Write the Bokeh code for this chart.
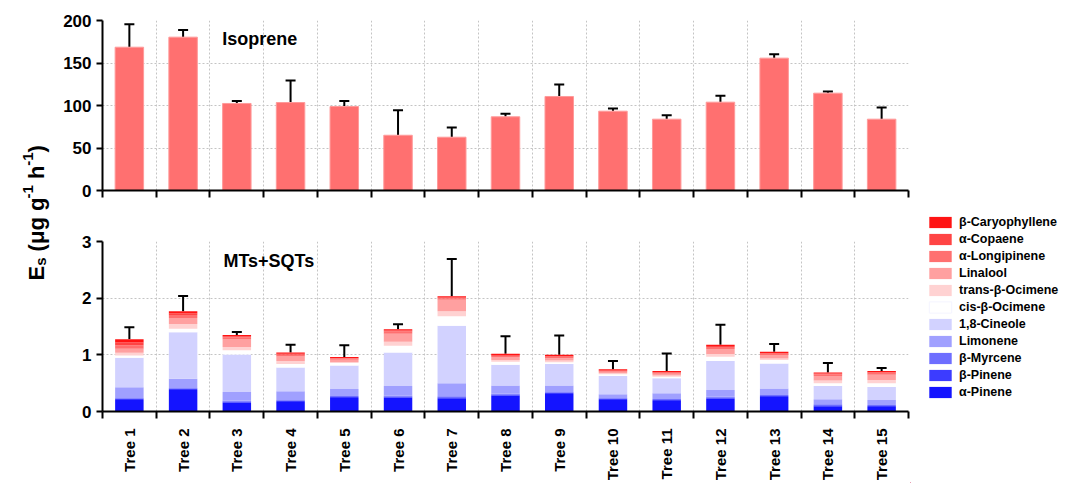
import math
from bokeh.plotting import figure
from bokeh.models import (Range1d, FixedTicker, Whisker, TeeHead, ColumnDataSource,
                          Legend, LegendItem, Label)
from bokeh.layouts import row, column
from bokeh.embed import file_html
from bokeh.resources import INLINE
from bokeh.core.properties import value

# ---------------- data ----------------
trees = ["Tree 1", "Tree 2", "Tree 3", "Tree 4", "Tree 5", "Tree 6", "Tree 7", "Tree 8",
         "Tree 9", "Tree 10", "Tree 11", "Tree 12", "Tree 13", "Tree 14", "Tree 15"]
tree_pos = [1, 2, 3, 4, 5, 6, 7, 8, 9, 10, 11, 12, 13, 14, 15]
boundaries = [0.5, 1.5, 2.5, 3.5, 4.5, 5.5, 6.5, 7.5, 8.5, 9.5, 10.5, 11.5, 12.5, 13.5, 14.5, 15.5]

isoprene = [168.6, 180.4, 102.4, 103.5, 98.8, 65.0, 62.7, 86.7, 110.6, 93.3, 83.9, 103.9, 155.7, 114.5, 83.9]
isoprene_err = [27.0, 8.5, 3.0, 26.0, 6.5, 29.5, 11.5, 3.5, 14.0, 3.2, 4.7, 7.5, 4.7, 2.0, 13.7]

a_pinene = [0.203, 0.378, 0.156, 0.168, 0.238, 0.244, 0.232, 0.280, 0.310, 0.203, 0.185, 0.226, 0.255, 0.091, 0.079]
b_pinene = [0.020, 0.022, 0.020, 0.020, 0.020, 0.020, 0.020, 0.020, 0.020, 0.020, 0.020, 0.020, 0.020, 0.020, 0.020]
b_myrcene = [0.015, 0.015, 0.015, 0.015, 0.015, 0.015, 0.015, 0.015, 0.015, 0.015, 0.015, 0.015, 0.015, 0.015, 0.015]
limonene = [0.189, 0.161, 0.154, 0.154, 0.125, 0.171, 0.231, 0.142, 0.112, 0.067, 0.102, 0.119, 0.114, 0.090, 0.090]
cineole = [0.520, 0.824, 0.661, 0.421, 0.415, 0.590, 1.017, 0.368, 0.380, 0.322, 0.263, 0.510, 0.444, 0.234, 0.229]
cis_ocimene = [0.041, 0.062, 0.074, 0.062, 0.041, 0.120, 0.165, 0.055, 0.033, 0.029, 0.029, 0.075, 0.059, 0.047, 0.064]
trans_ocimene = [0.050, 0.080, 0.060, 0.050, 0.020, 0.070, 0.090, 0.030, 0.030, 0.020, 0.020, 0.050, 0.030, 0.050, 0.060]
linalool = [0.070, 0.110, 0.130, 0.080, 0.040, 0.140, 0.200, 0.050, 0.040, 0.025, 0.030, 0.090, 0.060, 0.080, 0.090]
a_longipinene = [0.060, 0.050, 0.040, 0.030, 0.020, 0.040, 0.030, 0.020, 0.025, 0.015, 0.020, 0.035, 0.020, 0.030, 0.035]
a_copaene = [0.050, 0.030, 0.020, 0.020, 0.010, 0.020, 0.015, 0.010, 0.010, 0.010, 0.010, 0.015, 0.010, 0.013, 0.012]
b_caryophyllene = [0.057, 0.037, 0.021, 0.020, 0.016, 0.020, 0.020, 0.027, 0.025, 0.018, 0.020, 0.025, 0.026, 0.020, 0.020]
mt_err = [0.21, 0.27, 0.05, 0.14, 0.21, 0.09, 0.655, 0.31, 0.34, 0.146, 0.31, 0.35, 0.14, 0.164, 0.053]

compounds = ["α-Pinene", "β-Pinene", "β-Myrcene", "Limonene", "1,8-Cineole", "cis-β-Ocimene",
             "trans-β-Ocimene", "Linalool", "α-Longipinene", "α-Copaene", "β-Caryophyllene"]
compound_values = [a_pinene, b_pinene, b_myrcene, limonene, cineole, cis_ocimene,
                   trans_ocimene, linalool, a_longipinene, a_copaene, b_caryophyllene]
compound_colors = ["#1414ff", "#3c3cff", "#6e6eff", "#a0a0ff", "#d2d2ff", "#ffffff",
                   "#ffd2d2", "#ffa0a0", "#ff7070", "#ff4444", "#ff1414"]
isoprene_color = "#ff7070"

y_title = ["E", "s", "(μg g", "-1", "h", "-1", ")"]

FONT = "Liberation Sans"
GRID = "#c4c4c4"

# ---------------- helpers ----------------
def style_axes(p, yticks, labelled):
    p.outline_line_color = None
    for ax in (p.xaxis[0], p.yaxis[0]):
        ax.axis_line_width = 2
        ax.axis_line_color = "black"
        ax.major_label_text_font = FONT
        ax.major_label_text_font_style = "bold"
        ax.major_label_text_color = "black"
    ya = p.yaxis[0]
    ya.ticker = FixedTicker(ticks=yticks)
    ya.major_tick_out = 6
    ya.major_tick_in = 0
    ya.major_tick_line_width = 2
    ya.minor_tick_line_color = None
    ya.major_label_text_font_size = "17px"
    ya.major_label_standoff = 5
    xa = p.xaxis[0]
    xa.ticker = FixedTicker(ticks=tree_pos if labelled else [], minor_ticks=boundaries)
    xa.major_tick_line_color = None
    xa.major_tick_out = 0
    xa.major_tick_in = 0
    xa.minor_tick_out = 7
    xa.minor_tick_in = 0
    xa.minor_tick_line_width = 2
    xa.minor_tick_line_color = "black"
    p.xgrid.ticker = FixedTicker(ticks=boundaries[1:-1])
    p.xgrid.grid_line_color = GRID
    p.xgrid.grid_line_dash = "2 2"
    p.ygrid.grid_line_color = GRID
    p.ygrid.grid_line_dash = "2 2"


# ---------------- top panel: isoprene ----------------
top = figure(width=852, height=203, x_range=Range1d(0.5, 15.5), y_range=Range1d(0, 200),
             output_backend="svg", toolbar_location=None,
             min_border_left=44, min_border_right=2, min_border_top=20, min_border_bottom=13)
style_axes(top, [0, 50, 100, 150, 200], labelled=False)
top.ygrid.ticker = FixedTicker(ticks=[50, 100, 150])

iso_src = ColumnDataSource(dict(x=tree_pos, top=isoprene,
                                upper=[v + e for v, e in zip(isoprene, isoprene_err)]))
top.vbar(x="x", top="top", width=0.53, source=iso_src, fill_color=isoprene_color,
         line_color="#ff9a9a", line_width=1)
top.add_layout(Whisker(base="x", lower="top", upper="upper", source=iso_src,
                       line_width=2, line_color="black", lower_head=None,
                       upper_head=TeeHead(size=10, line_width=2, line_color="black")))
top.add_layout(Label(x=2.73, y=166.7, text="Isoprene", text_font=FONT,
                     text_font_style="bold", text_font_size="18px", text_color="black"))

# ---------------- bottom panel: MTs + SQTs ----------------
bot = figure(width=852, height=280, x_range=Range1d(0.5, 15.5), y_range=Range1d(0, 3),
             output_backend="svg", toolbar_location=None,
             min_border_left=44, min_border_right=2, min_border_top=38, min_border_bottom=71)
style_axes(bot, [0, 1, 2, 3], labelled=True)
bot.ygrid.ticker = FixedTicker(ticks=[1, 2])
bot.xaxis[0].major_label_overrides = {i: t for i, t in zip(tree_pos, trees)}
bot.xaxis[0].major_label_orientation = math.pi / 2
bot.xaxis[0].major_label_text_font_size = "15px"
bot.xaxis[0].major_label_standoff = 10

data = dict(x=tree_pos)
for name, vals in zip(compounds, compound_values):
    data[name] = vals
totals = [sum(v[i] for v in compound_values) for i in range(len(tree_pos))]
data["total"] = totals
data["upper"] = [t + e for t, e in zip(totals, mt_err)]
mt_src = ColumnDataSource(data)

bot.vbar_stack(compounds, x="x", width=0.53, source=mt_src,
               fill_color=compound_colors, line_color=None)
bot.add_layout(Whisker(base="x", lower="total", upper="upper", source=mt_src,
                       line_width=2, line_color="black", lower_head=None,
                       upper_head=TeeHead(size=10, line_width=2, line_color="black")))
bot.add_layout(Label(x=2.75, y=2.48, text="MTs+SQTs", text_font=FONT,
                     text_font_style="bold", text_font_size="18px", text_color="black"))

# ---------------- legend (own canvas to the right of the panels) ----------------
leg = figure(width=153, height=483, x_range=Range1d(0, 153), y_range=Range1d(0, 483),
             output_backend="svg", toolbar_location=None, min_border=0,
             x_axis_location=None, y_axis_location=None, outline_line_color=None)
leg.grid.visible = False
swatches = []
for name, col in zip(compounds, compound_colors):
    # proxy glyph placed outside the visible range: only its legend swatch shows
    r = leg.vbar(x=[-1000], top=[1], width=0.5, fill_color=col, line_color="#f4f4ff"
                 if col == "#ffffff" else None)
    swatches.append(LegendItem(label=name, renderers=[r]))
legend = Legend(items=swatches[::-1], location=(16, 84), orientation="vertical",
                glyph_width=28, glyph_height=14, label_height=14, spacing=3,
                label_standoff=5, padding=2, margin=0,
                label_text_font=FONT, label_text_font_style="bold",
                label_text_font_size="12.5px", label_text_color="black",
                background_fill_alpha=0, border_line_color=None)
leg.add_layout(legend)

# ---------------- shared y title ----------------
lab = figure(width=58, height=483, x_range=Range1d(0, 58), y_range=Range1d(0, 483),
             output_backend="svg", toolbar_location=None, min_border=0,
             x_axis_location=None, y_axis_location=None, outline_line_color=None)
lab.grid.visible = False
pieces_y = [203, 217.7, 232.1, 285.0, 304.4, 317.8, 331.1]
pieces_x = [36, 40, 36, 27, 36, 27, 36]
pieces_size = ["22px", "15px", "22px", "15px", "22px", "15px", "22px"]
for t, px, py, fs in zip(y_title, pieces_x, pieces_y, pieces_size):
    lab.text(x=[px], y=[py], text=[t], angle=math.pi / 2, text_font=value(FONT),
             text_font_style="bold", text_font_size=fs, text_color="black",
             text_align="left", text_baseline="alphabetic")

layout = row(lab, column(top, bot), leg)
open("out.html", "w").write(file_html(layout, INLINE))
